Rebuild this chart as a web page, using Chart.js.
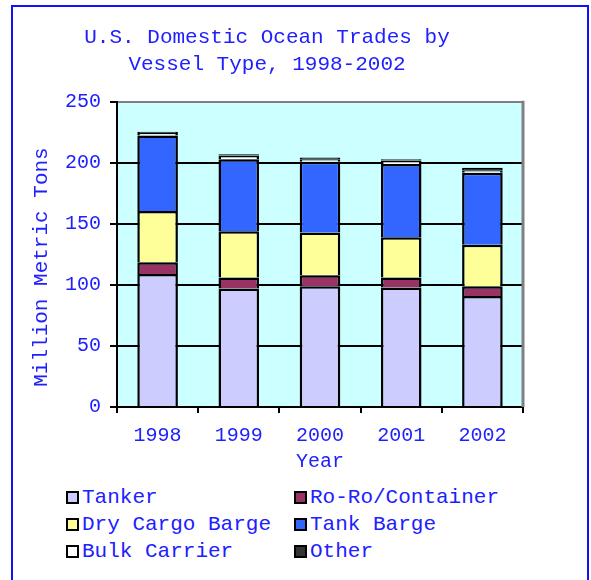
<!DOCTYPE html>
<html>
<head>
<meta charset="utf-8">
<script src="https://cdn.jsdelivr.net/npm/chart.js@4"></script>
<style>
  body { margin: 0; background: #fff; }
  #frame { position: absolute; left: 11px; top: 5px; width: 574px; height: 580px; border: 2px solid #1010ff; }
  #myChart { position: absolute; left: 0; top: 0; }
  #legend { position: absolute; left: 66px; top: 484px; font: 21px "Liberation Mono", monospace; color: #2020ff; }
  .item { position: absolute; white-space: nowrap; height: 27px; line-height: 27px; }
  .box { display: inline-block; width: 9px; height: 9px; border: 2px solid #000; margin-right: 3px; vertical-align: -1px; }
</style>
</head>
<body>
<div id="frame"></div>
<canvas id="myChart" width="546" height="480"></canvas>
<div id="legend"></div>
<script>
const years = ['1998', '1999', '2000', '2001', '2002'];
const tanker = [109, 97, 99, 98, 91];
const roRo = [9.5, 9, 9, 8, 8];
const dryCargo = [42, 38, 35, 33, 34];
const tankBarge = [62, 59, 58, 60, 59];
const bulkCarrier = [2, 3, 2, 3, 2];
const other = [1, 1, 1.5, 1, 2];
const yTicks = [0, 50, 100, 150, 200, 250];

const blue = '#2020ff';
const font = '"Liberation Mono", monospace';

const series = [
    {label: 'Tanker', data: tanker, color: '#ccccff'},
    {label: 'Ro-Ro/Container', data: roRo, color: '#993366'},
    {label: 'Dry Cargo Barge', data: dryCargo, color: '#ffff99'},
    {label: 'Tank Barge', data: tankBarge, color: '#3366ff'},
    {label: 'Bulk Carrier', data: bulkCarrier, color: '#ffffff'},
    {label: 'Other', data: other, color: '#333333'}
];

// cyan plot background and the grey frame on the right
const plotArea = {
    id: 'plotArea',
    beforeDraw(chart) {
        const a = chart.chartArea;
        const c = chart.ctx;
        c.save();
        c.fillStyle = '#ccffff';
        c.fillRect(a.left, a.top, a.right - a.left, a.bottom - a.top);
        c.restore();
    },
    beforeDatasetsDraw(chart) {
        const a = chart.chartArea;
        const c = chart.ctx;
        c.save();
        c.strokeStyle = '#808080';
        c.lineWidth = 3;
        c.beginPath();
        c.moveTo(a.right, a.top - 1);
        c.lineTo(a.right, a.bottom);
        c.stroke();
        c.restore();
    }
};

const ctx = document.getElementById('myChart');

const chart = new Chart(ctx, {
    type: 'bar',
    data: {
        labels: years,
        datasets: series.map(s => ({
            label: s.label,
            data: s.data,
            backgroundColor: s.color,
            borderColor: '#000',
            borderWidth: 2.5,
            barPercentage: 0.5,
            categoryPercentage: 1
        }))
    },
    plugins: [plotArea],
    options: {
        responsive: false,
        animation: false,
        devicePixelRatio: 1,
        layout: { padding: { left: 11, right: 23, top: 0, bottom: 6 } },
        plugins: {
            legend: { display: false },
            tooltip: { enabled: false },
            title: {
                display: true,
                text: ['U.S. Domestic Ocean Trades by', 'Vessel Type, 1998-2002'],
                color: blue,
                font: { family: font, size: 21, weight: 'normal', lineHeight: 1.33 },
                padding: { top: 23, bottom: 23 }
            }
        },
        scales: {
            x: {
                stacked: true,
                afterFit: s => { s.height = 67; },
                grid: { display: true, drawOnChartArea: false, offset: true, color: '#000', lineWidth: 2, tickLength: 6 },
                border: { color: '#000', width: 2 },
                ticks: { color: blue, font: { family: font, size: 20 }, padding: 11 },
                title: { display: true, text: 'Year', color: blue, font: { family: font, size: 20 }, padding: { top: 3, bottom: 0 } }
            },
            y: {
                stacked: true,
                min: 0,
                max: 250,
                afterBuildTicks: s => { s.ticks = yTicks.map(v => ({value: v})); },
                afterFit: s => { s.width = 106; },
                grid: {
                    color: c => c.tick && c.tick.value === 250 ? '#808080' : '#000',
                    lineWidth: 2,
                    tickLength: 7,
                    tickColor: '#000'
                },
                border: { color: '#000', width: 2 },
                ticks: { color: blue, font: { family: font, size: 20 }, padding: 9 },
                title: { display: true, text: 'Million Metric Tons  ', color: blue, font: { family: font, size: 21 }, padding: { top: 18, bottom: 0 } }
            }
        }
    }
});

// two-column legend built from the datasets
const legend = document.getElementById('legend');
chart.data.datasets.forEach((ds, i) => {
    const item = document.createElement('div');
    item.className = 'item';
    item.style.left = (i % 2) * 228 + 'px';
    item.style.top = Math.floor(i / 2) * 27 + 'px';
    const box = document.createElement('span');
    box.className = 'box';
    box.style.background = ds.backgroundColor;
    item.appendChild(box);
    item.appendChild(document.createTextNode(ds.label));
    legend.appendChild(item);
});
</script>
</body>
</html>
